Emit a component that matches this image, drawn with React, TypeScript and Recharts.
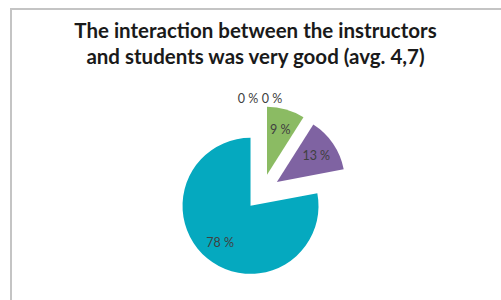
import React from 'react';
import { PieChart, Pie, Cell } from 'recharts';

const ratings = ['1', '2', '3', '4', '5'];
const shares = [0, 0, 9, 13, 78];
const colors = ['#4F81BD', '#C0504D', '#8BBB63', '#7F63A2', '#05A9BF'];

const rows = ratings.map((r, i) => ({ name: r, value: shares[i] }));

const CX = 257;
const CY = 187;
const R = 68;
const EXPLODE = 18;
const RAD = Math.PI / 180;

const total = shares.reduce((a, b) => a + b, 0);
// mid angle of every slice, recharts convention (start at 12 o'clock, clockwise)
const midAngles = shares.map((v, i) => {
  const before = shares.slice(0, i).reduce((a, b) => a + b, 0);
  return 90 - (360 * (before + v / 2)) / total;
});

const makeLabel = (k: number) => (props: any) => {
  if (props.index !== k) return <g />;
  const { cx, cy, outerRadius, value } = props;
  let x: number;
  let y: number;
  if (value === 0) {
    // empty slices: labels sit above the pie, side by side
    x = cx + (k === 0 ? -14 : 10);
    y = cy - outerRadius - 8;
  } else {
    const a = midAngles[k];
    x = cx + Math.cos(-a * RAD) * outerRadius * 0.7;
    y = cy + Math.sin(-a * RAD) * outerRadius * 0.7;
  }
  return (
    <text
      x={x}
      y={y}
      fill="#404040"
      style={{ fontSize: 12.5, fontFamily: 'Lato, sans-serif' }}
      textAnchor="middle"
      dominantBaseline="central"
    >
      {`${value} %`}
    </text>
  );
};

export default function App() {
  return (
    <div style={{ position: 'absolute', left: 0, top: 0, width: 501, height: 300, background: '#fff', overflow: 'hidden' }}>
      <div
        style={{
          position: 'absolute',
          left: 10,
          top: 8,
          width: 520,
          height: 320,
          border: '2px solid #c4c4c4',
        }}
      />
      <div
        style={{
          position: 'absolute',
          left: 10,
          top: 17,
          width: 491,
          textAlign: 'center',
          fontFamily: 'Lato, sans-serif',
          fontWeight: 700,
          fontSize: 20.5,
          lineHeight: '26px',
          color: '#1a1a1a',
        }}
      >
        The interaction between the instructors
        <br />
        and students was very good (avg. 4,7)
      </div>
      <PieChart width={501} height={300} style={{ position: 'absolute', left: 0, top: 0 }}>
        {rows.map((_, k) => {
          const a = midAngles[k];
          const dx = Math.cos(-a * RAD) * EXPLODE;
          const dy = Math.sin(-a * RAD) * EXPLODE;
          return (
            <Pie
              key={k}
              data={rows}
              dataKey="value"
              nameKey="name"
              cx={CX + dx}
              cy={CY + dy}
              outerRadius={R}
              startAngle={90}
              endAngle={-270}
              stroke="none"
              labelLine={false}
              label={makeLabel(k)}
              isAnimationActive={false}
            >
              {rows.map((_, i) => (
                <Cell key={i} fill={i === k ? colors[i] : 'none'} />
              ))}
            </Pie>
          );
        })}
      </PieChart>
    </div>
  );
}
